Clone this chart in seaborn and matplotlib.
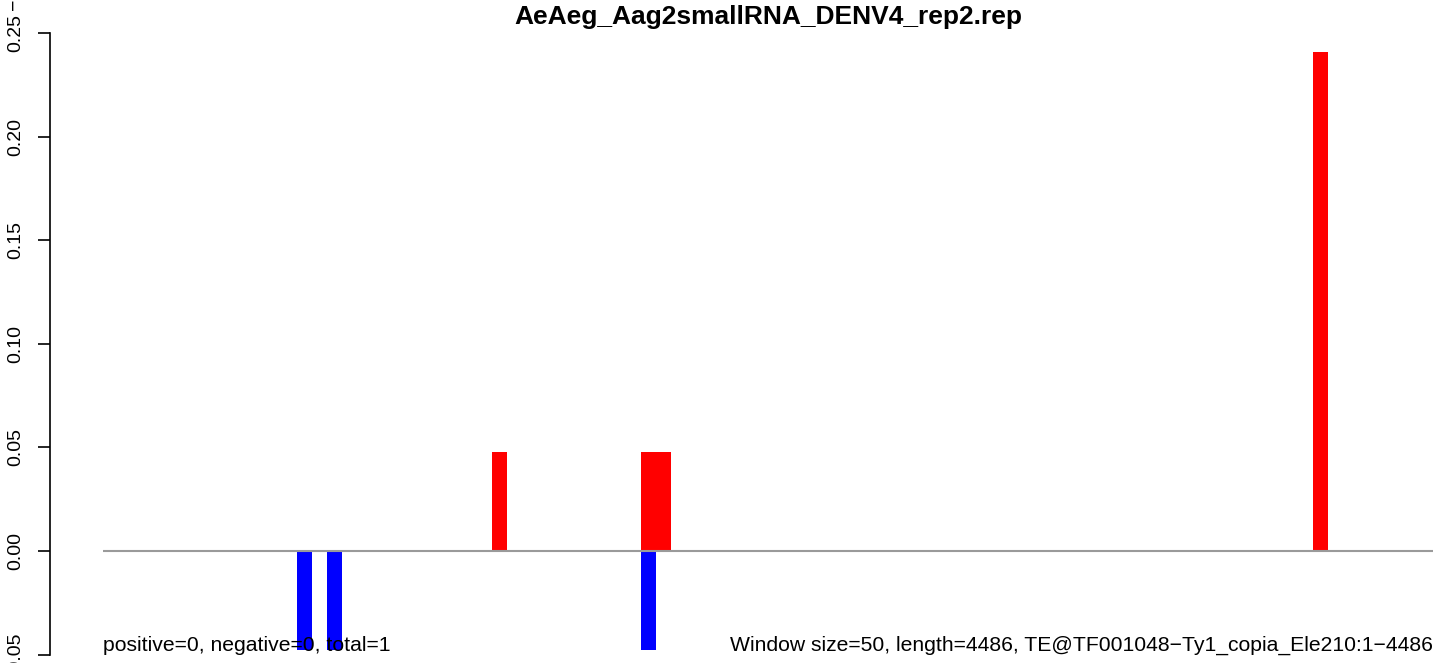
import numpy as np
import pandas as pd
import seaborn as sns
import matplotlib.pyplot as plt

# Data
n_bins = 89  # length 4486 / window 50
pos_bins = [26, 36, 37, 81]
pos_vals = [0.048, 0.048, 0.048, 0.241]
neg_bins = [13, 15, 36]
neg_vals = [-0.048, -0.048, -0.048]
y_ticks = [-0.05, 0.00, 0.05, 0.10, 0.15, 0.20, 0.25]
title = "AeAeg_Aag2smallRNA_DENV4_rep2.rep"
left_note = "positive=0, negative=0, total=1"
right_note = "Window size=50, length=4486, TE@TF001048\u2212Ty1_copia_Ele210:1\u22124486"

if __name__ == "__main__":
    sns.set_style("white")
    plt.rcParams["font.family"] = ["Liberation Sans", "DejaVu Sans"]
    plt.rcParams["text.color"] = "black"
    plt.rcParams["ytick.color"] = "black"
    plt.rcParams["axes.edgecolor"] = "black"

    pos = np.zeros(n_bins)
    pos[pos_bins] = pos_vals
    neg = np.zeros(n_bins)
    neg[neg_bins] = neg_vals
    df = pd.DataFrame({"x": np.arange(n_bins) + 0.5, "pos": pos, "neg": neg})

    W, H = 1444, 663
    fig = plt.figure(figsize=(W / 100, H / 100), dpi=100)
    # plot region as in R: extends a bit past the right edge of the picture
    ax = fig.add_axes([50 / W, 0, (1486 - 50) / W, 1])

    sns.barplot(data=df, x="x", y="pos", native_scale=True, width=1,
                color="red", saturation=1, errorbar=None, linewidth=0, ax=ax)
    sns.barplot(data=df, x="x", y="neg", native_scale=True, width=1,
                color="blue", saturation=1, errorbar=None, linewidth=0, ax=ax)
    ax.hlines(0, 0, n_bins, color="#9a9a9a", linewidth=1.5, zorder=3)

    ax.set_xlim(-0.04 * n_bins, n_bins * 1.04)
    ax.set_ylim(-(663 - 551) / 2072, 551 / 2072)

    for s in ["top", "right", "bottom"]:
        ax.spines[s].set_visible(False)
    ax.spines["left"].set_bounds(-0.05, 0.25)
    ax.spines["left"].set_linewidth(1.2)
    ax.set_xticks([])
    ax.set_yticks(y_ticks)
    ax.set_yticklabels([f"{v:.2f}" for v in y_ticks], rotation=90, va="center",
                       fontsize=14, color="black")
    ax.tick_params(axis="y", left=True, length=8.6, width=1.2, pad=10, color="black")
    ax.set_xlabel("")
    ax.set_ylabel("")

    ax.text(0, -0.0483, left_note, ha="left", va="baseline", fontsize=15.2, zorder=5)
    ax.text(n_bins, -0.0483, right_note, ha="right", va="baseline", fontsize=15.2, zorder=5)

    fig.text(768 / W, 1 - 17 / H, title, ha="center", va="center",
             fontsize=19, fontweight="bold")
    # stray minus from the neighbouring panel's axis label
    fig.text(14 / W, 1 - 4 / H, "\u2212", rotation=90, ha="center", va="center",
             fontsize=14)

    fig.savefig("out.png", dpi=100)
